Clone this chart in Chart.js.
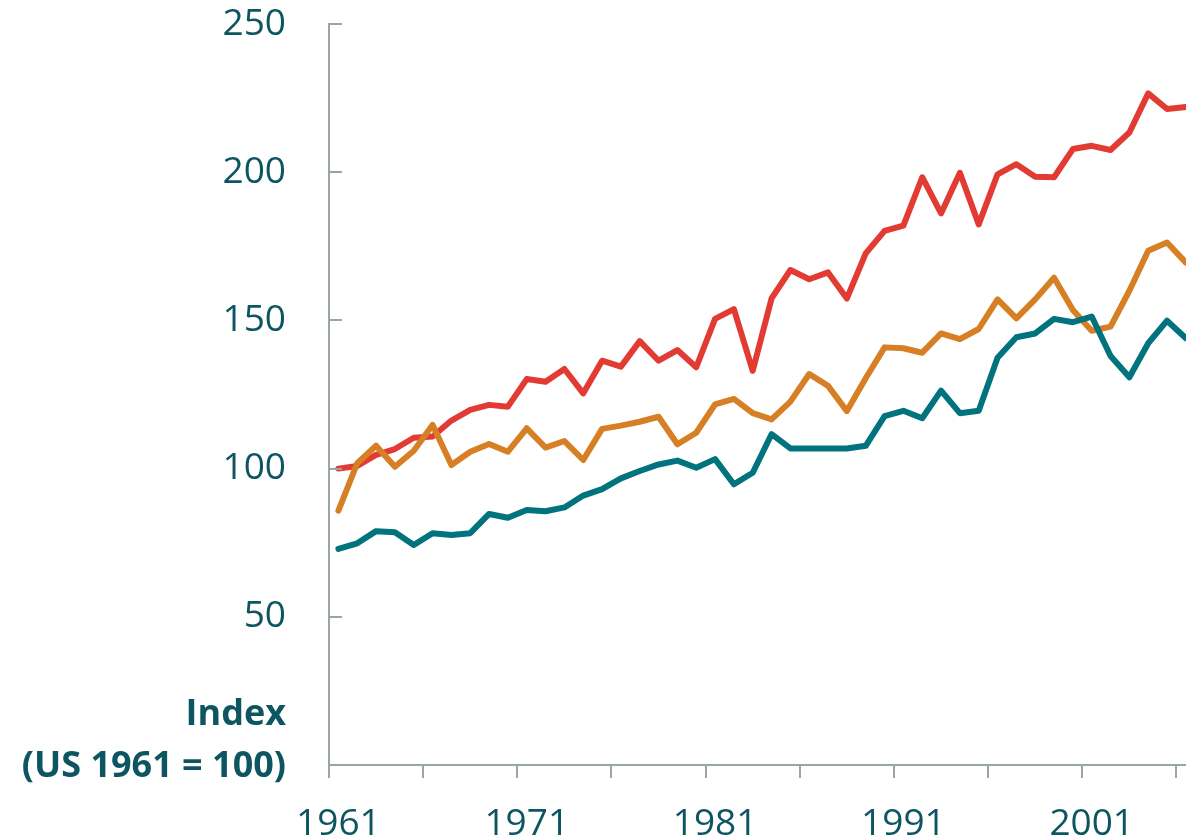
<!DOCTYPE html>
<html>
<head>
<meta charset="utf-8">
<script src="https://cdn.jsdelivr.net/npm/chart.js@4.4.1/dist/chart.umd.min.js"></script>
<style>
  html, body { margin: 0; padding: 0; background: #ffffff; overflow: hidden; width: 1186px; height: 838px; }
  #wrap { position: relative; width: 1210px; height: 838px; }
</style>
</head>
<body>
<div id="wrap"><canvas id="c" width="1210" height="838"></canvas></div>
<script>
// Years 1961..2006 (chart is cropped at the right edge)
const years = [];
for (let y = 1961; y <= 2006; y++) years.push(String(y));

const tealSeries = [72.9, 74.8, 78.9, 78.5, 74.2, 78.2, 77.6, 78.2, 84.7, 83.4,
  86.0, 85.6, 86.9, 90.9, 93.1, 96.7, 99.2, 101.4, 102.7, 100.3,
  103.2, 94.7, 98.6, 111.6, 106.8, 106.8, 106.8, 106.8, 107.7, 117.7,
  119.5, 117.0, 126.3, 118.7, 119.5, 137.4, 144.3, 145.6, 150.5, 149.4,
  151.3, 138.0, 130.8, 142.3, 149.9, 144.0];

const orangeSeries = [85.8, 101.8, 107.7, 100.6, 106.0, 114.7, 101.2, 105.7, 108.3, 105.7,
  113.6, 107.1, 109.3, 102.9, 113.4, 114.5, 115.8, 117.5, 108.2, 112.1,
  121.7, 123.5, 118.7, 116.6, 122.6, 131.9, 127.9, 119.4, 130.5, 140.9,
  140.6, 139.1, 145.6, 143.7, 147.1, 157.1, 150.7, 157.1, 164.4, 153.5,
  146.5, 147.9, 160.0, 173.5, 176.3, 169.5];

const redSeries = [100.0, 100.9, 104.6, 106.6, 110.4, 110.8, 116.2, 119.8, 121.5, 120.9,
  130.2, 129.3, 133.6, 125.4, 136.4, 134.4, 143.0, 136.4, 140.0, 134.2,
  150.5, 153.8, 133.0, 157.4, 167.0, 163.9, 166.2, 157.4, 172.6, 180.2,
  182.0, 198.3, 186.1, 199.8, 182.4, 199.3, 202.7, 198.5, 198.3, 207.8,
  208.9, 207.5, 213.4, 226.6, 221.3, 222.0];

const yTicks = [0, 50, 100, 150, 200, 250];
const axisTitleLines = ['Index', '(US 1961 = 100)'];

const TEXT = '#0c5561';
const AXIS = '#9aa5a9';

const axisTitlePlugin = {
  id: 'axisTitle',
  afterDraw(chart) {
    const ctx = chart.ctx;
    ctx.save();
    ctx.fillStyle = TEXT;
    ctx.font = 'bold 36px "Open Sans"';
    ctx.textAlign = 'right';
    ctx.textBaseline = 'middle';
    ctx.fillText(axisTitleLines[0], 286, 715);
    ctx.fillText(axisTitleLines[1], 286, 767);
    ctx.restore();
  }
};

const innerTicksPlugin = {
  id: 'innerTicks',
  afterDatasetsDraw(chart) {
    const y = chart.scales.y;
    const ctx = chart.ctx;
    ctx.save();
    ctx.strokeStyle = AXIS;
    ctx.lineWidth = 2;
    yTicks.forEach(v => {
      if (v === 0) return;
      const py = Math.round(y.getPixelForValue(v));
      ctx.beginPath();
      ctx.moveTo(chart.chartArea.left, py);
      ctx.lineTo(chart.chartArea.left + 13, py);
      ctx.stroke();
    });
    ctx.restore();
  }
};

const common = { fill: false, tension: 0, pointRadius: 0, borderWidth: 6, borderJoinStyle: 'round', borderCapStyle: 'round' };

const chart = new Chart(document.getElementById('c'), {
  type: 'line',
  data: {
    labels: years,
    datasets: [
      Object.assign({ label: 'Teal', data: tealSeries, borderColor: '#00737f' }, common),
      Object.assign({ label: 'Orange', data: orangeSeries, borderColor: '#d67f24' }, common),
      Object.assign({ label: 'Red', data: redSeries, borderColor: '#e23b33' }, common)
    ]
  },
  plugins: [innerTicksPlugin, axisTitlePlugin],
  options: {
    responsive: false,
    animation: false,
    devicePixelRatio: 1,
    layout: { padding: { left: 0, top: 24, right: 11.6, bottom: 0 } },
    plugins: { legend: { display: false }, tooltip: { enabled: false } },
    scales: {
      x: {
        type: 'category',
        offset: true,
        afterFit(scale) { scale.height = 73; scale.paddingTop = 0; scale.paddingBottom = 0; },
        border: { display: true, color: AXIS, width: 2 },
        grid: {
          offset: true,
          drawOnChartArea: false,
          drawTicks: true,
          tickLength: 13,
          lineWidth: 2,
          color: (ctx) => (ctx.index % 5 === 0 ? AXIS : 'rgba(0,0,0,0)')
        },
        ticks: {
          autoSkip: false,
          maxRotation: 0,
          minRotation: 0,
          padding: 24,
          color: TEXT,
          font: { family: '"Open Sans"', size: 37 },
          callback: function (val, idx) { return idx % 10 === 0 ? this.getLabelForValue(val) : ''; }
        }
      },
      y: {
        min: 0,
        max: 250,
        afterFit(scale) { scale.width = 329; scale.paddingTop = 0; scale.paddingBottom = 0; },
        afterBuildTicks(scale) { scale.ticks = yTicks.map(v => ({ value: v })); },
        border: { display: true, color: AXIS, width: 2 },
        grid: { display: true, drawOnChartArea: false, drawTicks: false, color: 'rgba(0,0,0,0)' },
        ticks: {
          padding: 43,
          color: TEXT,
          font: { family: '"Open Sans"', size: 37 },
          callback: (v) => (v === 0 ? '' : String(v))
        }
      }
    }
  }
});

// Make sure the plot area top sits where the reference has it
const wantTop = 24;
const diff = chart.chartArea.top - wantTop;
if (Math.abs(diff) > 0.5) {
  chart.options.layout.padding.top = 24 - diff;
  chart.update();
}
</script>
</body>
</html>
